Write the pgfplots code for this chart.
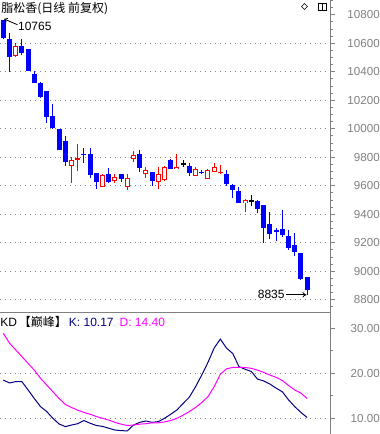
\documentclass[border=0pt]{standalone}
\usepackage{fontspec}
\setmainfont{Liberation Sans}
\newfontfamily\cjk{Noto Sans CJK SC}
\usepackage{pgfplots}
\pgfplotsset{compat=1.18}
\usepackage{pgfplotstable}
\usetikzlibrary{arrows.meta}
\definecolor{cblue}{RGB}{0,0,255}
\definecolor{cred}{RGB}{255,0,0}
\definecolor{kcol}{RGB}{0,0,128}
\definecolor{dcol}{RGB}{255,0,255}
\definecolor{axgray}{RGB}{128,128,128}
\newcommand\ticksize{\fontsize{8.7pt}{10pt}\selectfont}

% falling days (blue)
\pgfplotstableread{
i O H L C
1 10765 10765 10630 10635
2 10628 10674 10401 10506
4 10581 10632 10518 10534
5 10560 10560 10405 10405
6 10385 10405 10318 10319
7 10322 10330 10218 10225
8 10267 10267 10043 10085
9 10090 10172 9998 10008
10 9998 9998 9851 9851
11 9914 9950 9739 9769
14 9823 9863 9762 9819
15 9823 9863 9657 9678
16 9690 9690 9577 9629
18 9683 9723 9622 9629
20 9681 9681 9629 9646
23 9823 9851 9699 9723
25 9699 9699 9601 9636
28 9781 9788 9716 9716
31 9739 9762 9671 9692
33 9697 9711 9681 9692
37 9685 9711 9599 9610
38 9606 9613 9516 9570
39 9566 9589 9481 9481
42 9493 9500 9407 9435
43 9465 9465 9201 9306
44 9332 9418 9224 9260
45 9288 9302 9215 9283
46 9297 9430 9240 9255
47 9248 9290 9149 9166
48 9184 9271 9107 9133
49 9126 9126 8939 8946
50 8962 8962 8835 8869
}\down

% rising days (red, hollow)
\pgfplotstableread{
i O H L C
3 10513 10600 10502 10581
12 9739 9800 9617 9779
13 9779 9893 9706 9793
17 9594 9683 9594 9676
19 9636 9681 9622 9660
21 9594 9683 9571 9652
22 9786 9846 9765 9816
24 9685 9730 9657 9709
26 9624 9730 9575 9685
27 9641 9739 9634 9730
29 9716 9823 9716 9732
32 9671 9730 9671 9716
34 9650 9716 9650 9711
35 9695 9758 9695 9730
36 9688 9746 9681 9699
40 9477 9505 9418 9500
}\up

% unchanged days (black cross)
\pgfplotstableread{
i O H L C
30 9755 9781 9732 9755
41 9495 9533 9458 9495
}\flat

% KD indicator
\pgfplotstableread{
i K D
1 18.5 28.9
2 17.85 26.7
3 18.15 25.2
4 18.15 23.7
5 16.3 22.2
6 14.4 20.7
7 12.6 18.9
8 11.5 17.4
9 10.0 15.9
10 8.74 14.4
11 8.15 13.1
12 8.5 12.4
13 8.8 11.8
14 9.5 11.3
15 8.9 10.9
16 8.4 10.4
17 8.2 10.0
18 7.8 9.6
19 7.4 9.1
20 7.26 8.7
21 7.2 8.4
22 8.5 8.5
23 9.1 8.7
24 9.4 8.8
25 9.1 9.0
26 9.26 9.0
27 10.0 9.2
28 10.9 9.5
29 11.85 10.0
30 13.3 10.7
31 14.7 11.5
32 17.0 12.4
33 19.6 13.5
34 22.4 14.8
35 25.6 17.0
36 27.6 19.8
37 25.6 21.0
38 24.4 21.3
39 21.5 21.3
40 20.9 21.3
41 20.4 21.1
42 18.7 20.7
43 18.3 20.2
44 17.6 19.6
45 16.7 19.1
46 15.9 18.4
47 14.1 17.3
48 12.6 16.3
49 11.3 15.6
50 10.17 14.4
}\kd

\pgfplotsset{
  candleaxis/.style={
    scale only axis, anchor=south west,
    width=247.5pt,
    xmin=0.4677, xmax=53.69,
    axis y line*=right,
    y axis line style={draw=axgray, line width=0.75pt},
    tick align=outside,
    major tick length=3.75pt, minor tick length=2.25pt,
    tick style={draw=axgray, line width=0.75pt},
    ymajorgrids=true,
    grid style={draw=axgray, line width=0.75pt, dash pattern=on 0.75pt off 3pt},
    yticklabel style={font=\ticksize, text=axgray, anchor=east, inner sep=0pt, xshift=33.75pt},
    scaled y ticks=false,
    /pgf/number format/assume math mode=true,
  },
  wick/.style={draw=none, mark=none, forget plot,
    error bars/.cd, y dir=both, y explicit, error mark=none,
    error bar style={draw=#1, line width=0.75pt, solid}},
  body/.style 2 args={draw=none, mark=none, forget plot,
    error bars/.cd, y dir=both, y explicit, error mark=none,
    error bar style={draw=#1, line width=#2, solid}},
}

\begin{document}
\begin{tikzpicture}
\path[use as bounding box] (0,0) rectangle (284.25pt,325.5pt);

% ---------- main candlestick panel ----------
\begin{axis}[candleaxis,
  at={(0pt,90.75pt)},
  height=234.75pt,
  ymin=8707.3, ymax=10903.9,
  axis x line=none,
  ytick={8800,9000,...,10600},
  extra y ticks={10800},
  extra y tick style={grid=none},
  minor ytick={8750,8800,...,10900},
  /pgf/number format/.cd, 1000 sep={},
]
% wicks
\addplot[wick=cblue] table[x=i, y expr=(\thisrow{H}+\thisrow{L})/2, y error expr=(\thisrow{H}-\thisrow{L})/2] {\down};
\addplot[wick=cred] table[x=i, y expr=(\thisrow{H}+\thisrow{L})/2, y error expr=(\thisrow{H}-\thisrow{L})/2] {\up};
\addplot[wick=black] table[x=i, y expr=(\thisrow{H}+\thisrow{L})/2, y error expr=(\thisrow{H}-\thisrow{L})/2] {\flat};
% bodies
\addplot[body={cblue}{3.75pt}] table[x=i, y expr=(\thisrow{O}+\thisrow{C})/2, y error expr={max(abs(\thisrow{O}-\thisrow{C})/2,3.5)}] {\down};
\addplot[body={black}{3.75pt}] table[x=i, y expr=(\thisrow{O}+\thisrow{C})/2, y error expr={max(abs(\thisrow{O}-\thisrow{C})/2,3.5)}] {\flat};
\addplot[body={cred}{3.75pt}] table[x=i, y expr=(\thisrow{O}+\thisrow{C})/2, y error expr={max(abs(\thisrow{O}-\thisrow{C})/2,3.5)}] {\up};
\addplot[body={white}{2.25pt}] table[x=i, y expr=(\thisrow{O}+\thisrow{C})/2, y error expr={max(abs(\thisrow{C}-\thisrow{O})/2-7.02,0)}] {\up};
% annotations
\draw[black, line width=0.6pt, -{To[length=2.5pt,width=3.5pt]}] (axis cs:3.3,10730) -- (axis cs:1.15,10770);
\node[anchor=west, inner sep=0pt, font=\fontsize{9pt}{10pt}\selectfont] at (axis cs:3.35,10720) {10765};
\node[anchor=east, inner sep=0pt, font=\fontsize{9pt}{10pt}\selectfont] at (axis cs:46.4,8838) {8835};
\draw[black, line width=0.6pt, -{To[length=3pt,width=4pt]}] (axis cs:46.6,8835) -- (axis cs:49.9,8835);
\end{axis}

% ---------- KD panel ----------
\begin{axis}[candleaxis,
  at={(0pt,0pt)},
  height=90.75pt,
  ymin=6.51, ymax=33.4,
  axis x line*=top,
  x axis line style={draw=axgray, line width=0.75pt},
  xtick=\empty,
  ytick={10,20},
  extra y ticks={30},
  extra y tick style={grid=none},
  minor ytick={15,25},
  /pgf/number format/.cd, fixed, fixed zerofill, precision=2,
]
\addplot[kcol, line width=0.75pt, mark=none] table[x=i, y=K] {\kd};
\addplot[dcol, line width=0.75pt, mark=none] table[x=i, y=D] {\kd};
\end{axis}

% ---------- texts and icons (pixel coordinates, y downward) ----------
\begin{scope}[shift={(0pt,325.5pt)}, x=0.75pt, y=-0.75pt]
\node[anchor=west, inner sep=0pt, font=\cjk\fontsize{9pt}{10pt}\selectfont] at (1,9) {脂松香(日线 前复权)};
\node[anchor=west, inner sep=0pt, font=\fontsize{9pt}{10pt}\selectfont] at (0,322)
  {KD\,{\cjk【巅峰】}\,\textcolor{kcol}{K: 10.17}\enspace\textcolor{dcol}{D: 14.40}};
\draw[black, line width=0.5pt] (304.5,3.5) -- (307.5,6.5) -- (304.5,9.5) -- (301.5,6.5) -- cycle;
\draw[black, line width=0.5pt] (318.5,3.5) rectangle (326.5,10.5);
\draw[black, line width=0.5pt] (322.5,3.5) -- (322.5,10.5);
\end{scope}
\end{tikzpicture}
\end{document}
